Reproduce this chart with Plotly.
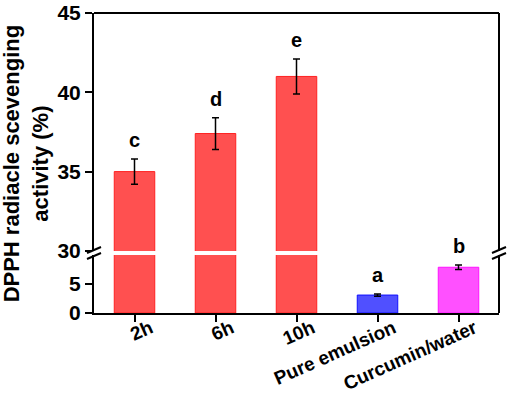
import plotly.graph_objects as go

categories = ["2h", "6h", "10h", "Pure emulsion", "Curcumin/water"]
values = [35.0, 37.4, 41.0, 3.1, 7.9]
errors = [0.8, 1.0, 1.1, 0.2, 0.4]
letters = ["c", "d", "e", "a", "b"]
fill_colors = ["#FF5050", "#FF5050", "#FF5050", "#5050FF", "#FF50FF"]
line_colors = ["#FF2020", "#FF2020", "#FF2020", "#1010FF", "#FF10FF"]
lower_ticks = [0, 5]
upper_ticks = [30, 35, 40, 45]
lower_range = [0, 10]
upper_range = [30, 45]

FONT = "Liberation Sans"
BLACK = "#000000"

hi = [i for i, v in enumerate(values) if v > lower_range[1]]
lo = [i for i, v in enumerate(values) if v <= lower_range[1]]

fig = go.Figure()

# lower segment: all bars (tall ones clipped)
fig.add_trace(go.Bar(
    x=[categories[i] for i in hi], y=[values[i] for i in hi],
    marker=dict(color=[fill_colors[i] for i in hi],
                line=dict(color=[line_colors[i] for i in hi], width=1)),
    width=0.5, xaxis="x", yaxis="y", showlegend=False))
fig.add_trace(go.Bar(
    x=[categories[i] for i in lo], y=[values[i] for i in lo],
    marker=dict(color=[fill_colors[i] for i in lo],
                line=dict(color=[line_colors[i] for i in lo], width=1)),
    error_y=dict(type="data", array=[errors[i] for i in lo], color=BLACK,
                 thickness=1.5, width=3.5),
    width=0.5, xaxis="x", yaxis="y", showlegend=False))
# upper segment
fig.add_trace(go.Bar(
    x=[categories[i] for i in hi], y=[values[i] for i in hi],
    marker=dict(color=[fill_colors[i] for i in hi],
                line=dict(color=[line_colors[i] for i in hi], width=1)),
    error_y=dict(type="data", array=[errors[i] for i in hi], color=BLACK,
                 thickness=1.5, width=3.5),
    width=0.5, xaxis="x", yaxis="y2", showlegend=False))

annotations = []
for i in range(len(categories)):
    annotations.append(dict(
        x=categories[i], y=values[i] + errors[i],
        xref="x", yref="y2" if i in hi else "y",
        text=letters[i], showarrow=False, yanchor="bottom", yshift=6,
        font=dict(family=FONT, size=20, color=BLACK, weight="bold")))

annotations.append(dict(
    text="DPPH radiacle scevenging<br>activity (%)",
    xref="paper", yref="paper", x=-0.167, y=0.5, textangle=-90,
    showarrow=False, xanchor="center", yanchor="middle",
    font=dict(family=FONT, size=22, color=BLACK, weight="bold")))

lower_top = 0.193
upper_bot = 0.207
gap_mid = (lower_top + upper_bot) / 2

shapes = [dict(type="line", xref="paper", yref="paper", x0=0, x1=1, y0=1, y1=1,
               line=dict(color=BLACK, width=2))]
for y0, y1 in ((0, lower_top), (upper_bot, 1)):
    shapes.append(dict(type="line", xref="paper", yref="paper", x0=1, x1=1,
                       y0=y0, y1=y1, line=dict(color=BLACK, width=2)))
for xa in (0, 1):
    for off in (-3, 3):
        shapes.append(dict(type="line", xref="paper", yref="paper",
                           xsizemode="pixel", ysizemode="pixel",
                           xanchor=xa, yanchor=gap_mid,
                           x0=-7, x1=7, y0=off - 3, y1=off + 3,
                           line=dict(color=BLACK, width=2)))

axis_font = dict(family=FONT, size=21, color=BLACK, weight="bold")
common = dict(showline=True, linecolor=BLACK, linewidth=2,
              ticks="outside", ticklen=7, tickwidth=2, tickcolor=BLACK,
              showgrid=False, zeroline=False, automargin=False)

fig.update_layout(
    width=510, height=394,
    margin=dict(l=94, r=11, t=13, b=81, autoexpand=False),
    paper_bgcolor="white", plot_bgcolor="white",
    barmode="overlay",
    showlegend=False,
    xaxis=dict(categoryorder="array", categoryarray=categories,
               tickangle=-24, ticklabelshift=16, ticklabelstandoff=-12,
               tickfont=dict(family=FONT, size=19, color=BLACK, weight="bold"),
               anchor="y", **common),
    yaxis=dict(domain=[0, lower_top], range=lower_range, tickvals=lower_ticks,
               tickfont=axis_font, anchor="x", **common),
    yaxis2=dict(domain=[upper_bot, 1], range=upper_range, tickvals=upper_ticks,
                tickfont=axis_font, anchor="x", **common),
    annotations=annotations,
    shapes=shapes,
)

fig.write_html("out.html", config={"displayModeBar": False},
               post_script="document.body.style.margin='0';document.body.style.padding='0';")
